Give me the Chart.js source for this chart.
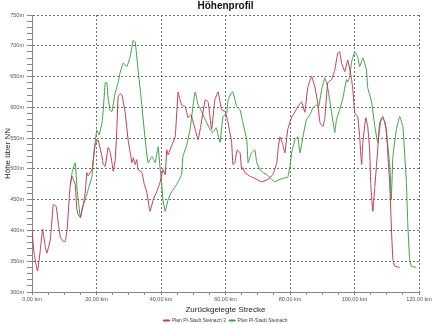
<!DOCTYPE html>
<html>
<head>
<meta charset="utf-8">
<script src="https://cdn.jsdelivr.net/npm/chart.js@4"></script>
<style>
    html, body { margin: 0; padding: 0; background: #fff; }
</style>
</head>
<body>
<canvas id="hoehenprofil" width="432" height="324"></canvas>
<script>
// distance in km, height in m
const red_km = [0, 0.7, 1.7, 2.6, 3.3, 4.0, 4.6, 5.7, 6.6, 7.5, 8.2, 8.8, 9.7, 10.3, 10.9, 11.8, 12.4, 12.8, 13.4, 13.9, 14.3, 15.0, 15.9, 16.5, 17.0, 17.4, 18.6, 19.0, 19.6, 20.5, 21.7, 22.1, 22.7, 23.6, 24.2, 24.8, 25.2, 25.8, 26.3, 26.7, 27.3, 27.9, 28.9, 29.8, 30.4, 31.0, 31.4, 32.0, 32.5, 32.9, 34.1, 34.8, 35.6, 36.6, 37.6, 38.7, 39.7, 40.2, 40.6, 41.3, 41.8, 42.2, 42.8, 43.4, 44.4, 45.3, 45.9, 46.4, 47.5, 48.4, 49.3, 50.6, 51.5, 52.4, 53.7, 54.6, 55.7, 56.7, 57.7, 58.8, 59.9, 60.8, 61.9, 62.3, 62.9, 63.6, 64.5, 65.0, 65.4, 66.0, 67.6, 68.5, 69.7, 71.2, 73.2, 74.7, 75.9, 76.3, 76.9, 77.8, 78.4, 79.3, 80.5, 81.5, 82.4, 83.6, 84.6, 85.5, 86.7, 87.7, 88.6, 89.3, 90.2, 90.8, 91.7, 92.9, 93.9, 94.8, 95.4, 96.0, 97.0, 97.9, 99.1, 99.5, 100.1, 101.0, 101.6, 102.2, 102.6, 103.5, 104.1, 104.7, 105.0, 105.7, 106.3, 106.8, 107.2, 107.8, 108.8, 109.9, 110.3, 110.9, 111.5, 111.9, 112.5, 114.0];
const red_m = [400, 361, 334, 369, 402, 377, 363, 386, 442, 439, 410, 389, 382, 382, 402, 471, 488, 483, 475, 434, 426, 421, 442, 462, 494, 489, 499, 515, 539, 547, 520, 507, 504, 535, 528, 510, 496, 515, 564, 617, 622, 620, 591, 547, 528, 510, 518, 507, 515, 499, 494, 475, 462, 431, 450, 463, 478, 489, 499, 491, 531, 523, 531, 539, 552, 625, 612, 604, 601, 583, 588, 564, 547, 572, 612, 609, 564, 612, 625, 596, 593, 575, 543, 507, 510, 531, 526, 499, 502, 494, 488, 486, 483, 479, 483, 491, 510, 531, 552, 539, 526, 564, 584, 592, 601, 609, 592, 632, 650, 633, 607, 575, 569, 583, 640, 645, 661, 688, 690, 672, 658, 677, 645, 628, 591, 585, 552, 507, 543, 583, 569, 531, 478, 431, 471, 504, 531, 575, 585, 564, 526, 478, 397, 353, 342, 340];

const green_km = [11.9, 12.5, 13.4, 14.0, 15.0, 15.6, 16.5, 17.4, 18.6, 19.3, 20.1, 20.8, 21.7, 22.1, 22.7, 23.2, 23.6, 24.2, 24.8, 25.8, 26.7, 27.3, 28.3, 29.4, 30.4, 31.1, 31.4, 32.0, 32.9, 34.1, 35.1, 36.0, 37.2, 38.2, 39.1, 39.7, 40.2, 40.6, 41.3, 42.2, 43.3, 44.4, 45.3, 46.4, 46.8, 48.0, 49.0, 49.9, 50.6, 51.5, 52.1, 53.0, 54.2, 55.2, 56.1, 57.1, 58.3, 59.2, 60.4, 60.8, 61.9, 62.3, 63.5, 64.5, 65.4, 66.6, 67.0, 67.6, 68.1, 69.1, 69.7, 70.7, 71.6, 72.8, 74.3, 75.3, 76.9, 78.9, 79.3, 80.0, 80.5, 81.5, 82.4, 83.1, 84.0, 85.1, 86.2, 87.1, 88.2, 88.9, 89.8, 90.8, 91.7, 92.9, 93.9, 94.4, 95.4, 96.4, 97.5, 97.9, 98.5, 99.1, 100.1, 101.0, 101.6, 102.6, 103.7, 104.1, 105.3, 106.3, 107.2, 107.8, 108.4, 109.4, 110.3, 110.9, 111.4, 111.9, 113.0, 114.0, 115.0, 115.6, 116.1, 116.5, 117.1, 117.6, 119.2];
const green_m = [474, 496, 510, 466, 421, 437, 450, 466, 488, 531, 563, 555, 575, 596, 640, 640, 615, 596, 593, 624, 640, 656, 672, 666, 682, 701, 709, 706, 661, 601, 547, 510, 520, 510, 536, 502, 478, 450, 431, 450, 463, 471, 479, 491, 520, 539, 564, 601, 625, 604, 599, 588, 575, 564, 559, 567, 543, 585, 591, 612, 624, 625, 601, 596, 575, 547, 510, 520, 526, 531, 510, 499, 494, 491, 483, 479, 483, 486, 486, 504, 526, 547, 552, 526, 552, 580, 588, 599, 604, 602, 628, 648, 632, 591, 559, 580, 596, 615, 645, 641, 650, 674, 690, 682, 666, 680, 661, 632, 609, 569, 543, 564, 583, 577, 539, 510, 450, 520, 564, 585, 569, 520, 478, 413, 353, 342, 340];

const series_labels = ["Plan Pl-Stadt Steinach 2", "Plan Pl-Stadt Steinach"];
const series_colors = ["#bf3a55", "#3f9f45"];

const grid_color = "#6f6f6f";
Chart.defaults.font.family = "'Liberation Sans', Arial, sans-serif";

function to_points(km, m) {
    return km.map((k, i) => ({ x: k, y: m[i] }));
}

let profile_chart = new Chart(
    document.getElementById('hoehenprofil'),
    {
        type: 'line',
        data: {
            datasets: [
                {
                    label: series_labels[0],
                    data: to_points(red_km, red_m),
                    borderColor: series_colors[0],
                    backgroundColor: series_colors[0],
                    borderWidth: 1,
                    pointRadius: 0,
                    tension: 0.1
                },
                {
                    label: series_labels[1],
                    data: to_points(green_km, green_m),
                    borderColor: series_colors[1],
                    backgroundColor: series_colors[1],
                    borderWidth: 1,
                    pointRadius: 0,
                    tension: 0.1
                }
            ]
        },
        options: {
            responsive: false,
            animation: false,
            layout: { padding: 0 },
            scales: {
                x: {
                    type: 'linear',
                    min: 0,
                    max: 120,
                    afterFit: (scale) => {
                        scale.height = 23;
                        scale.paddingLeft = 0;
                        scale.paddingRight = 13;
                    },
                    ticks: {
                        stepSize: 5,
                        autoSkip: false,
                        maxRotation: 0,
                        padding: 1,
                        color: '#555',
                        font: { size: 5.5 },
                        callback: function (value) {
                            return value % 20 == 0 ? value.toFixed(2).replace('.', ',') + " km" : "";
                        }
                    },
                    grid: {
                        tickLength: 3,
                        tickColor: '#888',
                        color: function (context) {
                            return context.tick && context.tick.value % 20 == 0 ? grid_color : 'rgba(0,0,0,0)';
                        }
                    },
                    border: { color: '#888', dash: [2, 2] },
                    title: {
                        display: true,
                        text: 'Zurückgelegte Strecke',
                        color: '#222',
                        font: { size: 8 },
                        padding: { top: 0, bottom: 0.5 }
                    }
                },
                y: {
                    min: 300,
                    max: 750,
                    afterFit: (scale) => {
                        scale.width = 32;
                    },
                    ticks: {
                        stepSize: 10,
                        autoSkip: false,
                        padding: 3,
                        color: '#555',
                        font: { size: 5.5 },
                        callback: function (value) {
                            return value % 50 == 0 ? value + "m" : "";
                        }
                    },
                    grid: {
                        tickLength: 5,
                        tickColor: '#888',
                        color: function (context) {
                            return context.tick && context.tick.value % 50 == 0 ? grid_color : 'rgba(0,0,0,0)';
                        }
                    },
                    border: { color: '#888', dash: [2, 2] },
                    title: {
                        display: true,
                        text: 'Höhe über NN',
                        color: '#222',
                        font: { size: 8 },
                        padding: { top: 2.5, bottom: 0 }
                    }
                }
            },
            plugins: {
                title: {
                    display: true,
                    text: 'Höhenprofil',
                    fullSize: false,
                    color: '#111',
                    font: { size: 10, weight: 'bold' },
                    padding: { top: 0, bottom: 3 }
                },
                legend: {
                    display: true,
                    position: 'bottom',
                    fullSize: false,
                    maxHeight: 9,
                    labels: {
                        boxWidth: 6,
                        boxHeight: 1,
                        padding: 3,
                        color: '#444',
                        font: { size: 5 }
                    }
                },
                tooltip: { enabled: false }
            }
        }
    }
);
</script>
</body>
</html>
